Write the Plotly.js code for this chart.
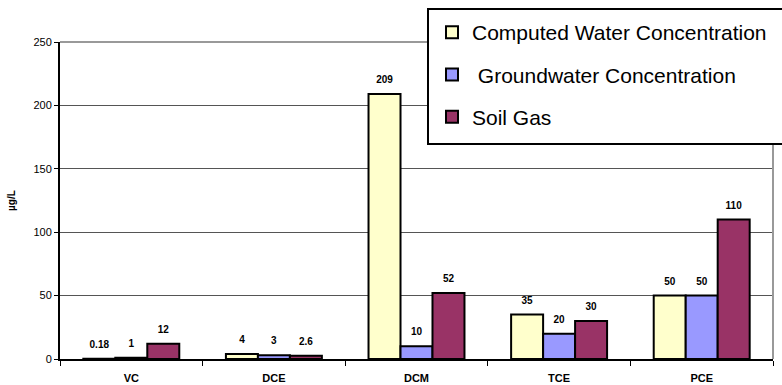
<!DOCTYPE html>
<html>
<head>
<meta charset="utf-8">
<script src="https://cdn.plot.ly/plotly-3.0.1.min.js"></script>
<style>html,body{margin:0;padding:0;background:#fff;}#chart{width:782px;height:385px;}</style>
</head>
<body>
<div id="chart"></div>
<script>
const categories = ['VC', 'DCE', 'DCM', 'TCE', 'PCE'];
const computedWater = [0.18, 4, 209, 35, 50];
const groundwater = [1, 3, 10, 20, 50];
const soilGas = [12, 2.6, 52, 30, 110];
const seriesNames = ['Computed Water Concentration', '\u00a0Groundwater Concentration', 'Soil Gas'];
const seriesColors = ['#FFFFCC', '#9999FF', '#993366'];
const seriesValues = [computedWater, groundwater, soilGas];

const FONT = 'Arial, "Liberation Sans", sans-serif';
const W = 782, H = 385;
const M = {l: 60, r: 9, t: 42, b: 26};
const pw = W - M.l - M.r, ph = H - M.t - M.b;
const px = v => (v - M.l) / pw;       // pixel x -> paper x
const py = v => (H - M.b - v) / ph;   // pixel y -> paper y

const traces = [];
seriesValues.forEach((vals, i) => {
  traces.push({
    type: 'bar', x: categories, y: vals, name: seriesNames[i],
    legendgroup: 'g' + i,
    marker: {color: seriesColors[i], line: {color: '#000', width: 2}},
    hoverinfo: 'skip'
  });
});
seriesValues.forEach((vals, i) => {
  traces.push({
    type: 'scatter', mode: 'markers+text', x: categories, y: vals,
    text: vals.map(String), textposition: 'top center',
    textfont: {family: FONT, size: 10, color: '#000', weight: 'bold'},
    marker: {size: 12, color: 'rgba(0,0,0,0)'},
    showlegend: false, hoverinfo: 'skip', cliponaxis: false
  });
});

const layout = {
  width: W, height: H,
  margin: Object.assign({autoexpand: false}, M),
  paper_bgcolor: '#fff', plot_bgcolor: '#fff',
  barmode: 'group', bargap: 0.327, bargroupgap: 0,
  scattermode: 'group', scattergap: 0.327,
  font: {family: FONT, color: '#000'},
  xaxis: {
    type: 'category', tickson: 'boundaries', ticks: 'outside', ticklen: 5, tickwidth: 1, tickcolor: '#000',
    showline: true, linecolor: '#000', linewidth: 2, showgrid: false,
    tickfont: {family: FONT, size: 11, color: '#000', weight: 'bold'},
    ticklabelstandoff: 8,
    fixedrange: true, automargin: false
  },
  yaxis: {
    range: [0, 250], dtick: 50, ticks: 'outside', ticklen: 4, tickcolor: '#000',
    showline: true, linecolor: '#000', linewidth: 2,
    showgrid: true, gridcolor: '#555', gridwidth: 1, zeroline: false,
    tickfont: {family: FONT, size: 11, color: '#000'},
    title: {text: 'µg/L', font: {family: FONT, size: 10, weight: 'bold', color: '#000'}, standoff: 16},
    automargin: false, fixedrange: true
  },
  shapes: [
    {type: 'line', xref: 'paper', yref: 'paper', x0: 0, x1: 1, y0: 1, y1: 1, line: {color: '#999', width: 2}},
    {type: 'line', xref: 'paper', yref: 'paper', x0: 1, x1: 1, y0: 0, y1: 1, line: {color: '#999', width: 2}},
    {type: 'rect', xref: 'paper', yref: 'paper', layer: 'above',
     x0: px(428), x1: px(800), y0: py(144), y1: py(9),
     fillcolor: '#fff', line: {color: '#000', width: 2}}
  ],
  legend: {
    x: px(432), y: py(12), xref: 'paper', yref: 'paper', xanchor: 'left', yanchor: 'top',
    bgcolor: 'rgba(0,0,0,0)', borderwidth: 0,
    font: {family: FONT, size: 21, color: '#000'},
    tracegroupgap: 12, traceorder: 'grouped', itemclick: false, itemdoubleclick: false
  },
  showlegend: true
};
Plotly.newPlot('chart', traces, layout, {displayModeBar: false, staticPlot: true});
</script>
</body>
</html>
